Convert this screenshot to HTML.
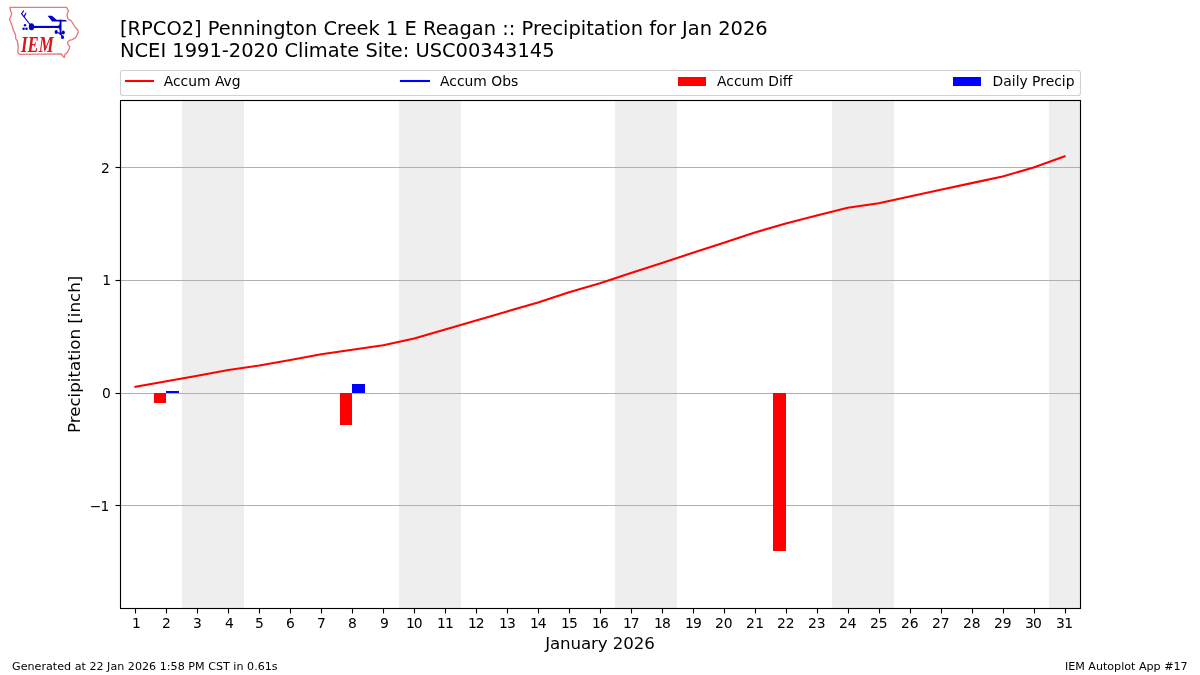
<!DOCTYPE html>
<html lang="en">
<head>
<meta charset="utf-8">
<title>IEM Autoplot App #17 - Precipitation for Jan 2026</title>
<style>
html,body{margin:0;padding:0;background:#fff;}
body{width:1200px;height:675px;overflow:hidden;}
svg{display:block;}
text{font-family:'DejaVu Sans', 'Liberation Sans', sans-serif;fill:#000;}
.tk{font-size:13.889px;}
.lg{font-size:13.889px;}
.ttl{font-size:19.444px;}
.axl{font-size:16.667px;}
.ft{font-size:11.111px;}
.sp{stroke:#000;stroke-width:1.111;fill:none;}
.gr{stroke:#b0b0b0;stroke-width:1.111;fill:none;}
</style>
</head>
<body>
<svg width="1200" height="675" viewBox="0 0 1200 675">
<rect x="0" y="0" width="1200" height="675" fill="#ffffff"/>
<g id="logo">
<path d="M9.9 7.4 L66.7 7.4 L67.6 9.6 L68.6 11.2 L67.4 13 L67.1 15.4 L67.6 18 L68.6 19.6 L70.4 20.3 L71.6 21.2 L72.6 23.2 L73.8 25 L75.2 27.2 L76.6 28.8 L77.9 30.2 L78.1 32 L77.4 34.4 L76.2 36.8 L74.6 38.4 L72.2 39.6 L69.4 40.4 L68.2 41.4 L67.4 43.2 L68.4 45 L69.6 46.4 L69.4 48.4 L68.4 50.4 L67.4 52.4 L65.8 53.6 L64.9 54.4 L64.4 57.4 L63.6 57 L61 53.8 L19.6 54.4 L18.2 53 L17.8 51.4 L18.2 47.6 L17.8 43.6 L17.2 40.6 L15.8 38.8 L15.6 35.6 L15 33.4 L13.6 31 L12.6 27.6 L11.6 24.4 L10.6 22 L9.5 19.4 L10.4 17.2 L11.6 14.6 L11.4 12.6 L10.6 10.8 L10.2 9 Z" fill="none" stroke="#e8787c" stroke-width="1.35" stroke-linejoin="round"/>
<g fill="#0000cd" stroke="none">
<ellipse cx="31.5" cy="26.8" rx="2.7" ry="3.5"/>
<rect x="31.5" y="25.85" width="29" height="2.15"/>
<path d="M57.4 26.8 L59.8 24 L59.8 29.8 Z"/>
<rect x="59.6" y="19.6" width="1.9" height="15.4"/>
<path d="M47.6 15.7 L51.9 15.7 L56.6 19.7 L65.8 20.1 L67 21.6 L52.1 21.6 Z"/>
<circle cx="25" cy="25.2" r="1.2"/>
<circle cx="23.6" cy="28.8" r="1.3"/>
<circle cx="26.5" cy="28.8" r="1.3"/>
<ellipse cx="56.2" cy="32" rx="1.6" ry="1.9"/>
<ellipse cx="63.3" cy="32.5" rx="1.5" ry="2.1"/>
<ellipse cx="62.5" cy="37.2" rx="1.5" ry="1.9"/>
</g>
<g fill="none" stroke="#0000cd" stroke-width="1.15" stroke-linecap="round">
<path d="M31.2 26 L21.6 13.8 L23.5 10.9"/>
<path d="M24.2 16.4 L25.9 13.3"/>
<path d="M56.4 32.2 L60.5 33.6 L63 32.6"/>
<path d="M60.6 34 L62.4 36.8"/>
</g>
<text x="0" y="0" transform="translate(21.0 51.8) scale(0.745 1)" style="font-family:'Liberation Serif','DejaVu Serif',serif;font-style:italic;font-weight:bold;font-size:22.6px;fill:#d8141c;">IEM</text>

</g>
<text class="ttl" x="120" y="34.9">[RPCO2] Pennington Creek 1 E Reagan :: Precipitation for Jan 2026</text>
<text class="ttl" x="120" y="56.8">NCEI 1991-2020 Climate Site: USC00343145</text>
<g id="weekends" fill="#eeeeee">
<rect x="182" y="101" width="62" height="507"/>
<rect x="399" y="101" width="62" height="507"/>
<rect x="615" y="101" width="62" height="507"/>
<rect x="832" y="101" width="62" height="507"/>
<rect x="1049" y="101" width="31" height="507"/>
</g>
<g id="grid" class="gr">
<line x1="120" y1="167.5" x2="1080" y2="167.5"/>
<line x1="120" y1="280.5" x2="1080" y2="280.5"/>
<line x1="120" y1="393.5" x2="1080" y2="393.5"/>
<line x1="120" y1="505.5" x2="1080" y2="505.5"/>
</g>
<g id="bars">
<rect x="154" y="393" width="12" height="10" fill="#ff0000"/>
<rect x="166" y="391" width="13" height="2" fill="#0000ff"/>
<rect x="340" y="393" width="12" height="32" fill="#ff0000"/>
<rect x="352" y="384" width="13" height="9" fill="#0000ff"/>
<rect x="773" y="393" width="13" height="158" fill="#ff0000"/>
</g>
<polyline id="accum-avg" points="135.48,386.85 166.45,381.33 197.42,375.69 228.39,370.05 259.35,365.54 290.32,359.90 321.29,354.27 352.26,349.75 383.23,345.25 414.19,338.48 445.16,329.46 476.13,320.44 507.10,311.42 538.06,302.40 569.03,292.25 600.00,283.23 630.97,273.09 661.94,262.94 692.90,252.79 723.87,242.64 754.84,232.50 785.81,223.48 816.77,215.58 847.74,207.69 878.71,203.18 909.68,196.42 940.65,189.76 971.61,183.11 1002.58,176.46 1033.55,167.44 1064.52,156.28" fill="none" stroke="#ff0000" stroke-width="2.083" stroke-linejoin="round" stroke-linecap="square"/>
<g id="spines" class="sp">
<rect x="120.5" y="100.5" width="960" height="508.0"/>
</g>
<g id="xticks" class="sp">
<line x1="135.5" y1="609" x2="135.5" y2="613.5"/>
<line x1="166.5" y1="609" x2="166.5" y2="613.5"/>
<line x1="197.5" y1="609" x2="197.5" y2="613.5"/>
<line x1="228.5" y1="609" x2="228.5" y2="613.5"/>
<line x1="259.5" y1="609" x2="259.5" y2="613.5"/>
<line x1="290.5" y1="609" x2="290.5" y2="613.5"/>
<line x1="321.5" y1="609" x2="321.5" y2="613.5"/>
<line x1="352.5" y1="609" x2="352.5" y2="613.5"/>
<line x1="383.5" y1="609" x2="383.5" y2="613.5"/>
<line x1="414.5" y1="609" x2="414.5" y2="613.5"/>
<line x1="445.5" y1="609" x2="445.5" y2="613.5"/>
<line x1="476.5" y1="609" x2="476.5" y2="613.5"/>
<line x1="507.5" y1="609" x2="507.5" y2="613.5"/>
<line x1="538.5" y1="609" x2="538.5" y2="613.5"/>
<line x1="569.5" y1="609" x2="569.5" y2="613.5"/>
<line x1="600.5" y1="609" x2="600.5" y2="613.5"/>
<line x1="631.5" y1="609" x2="631.5" y2="613.5"/>
<line x1="662.5" y1="609" x2="662.5" y2="613.5"/>
<line x1="693.5" y1="609" x2="693.5" y2="613.5"/>
<line x1="724.5" y1="609" x2="724.5" y2="613.5"/>
<line x1="755.5" y1="609" x2="755.5" y2="613.5"/>
<line x1="786.5" y1="609" x2="786.5" y2="613.5"/>
<line x1="817.5" y1="609" x2="817.5" y2="613.5"/>
<line x1="848.5" y1="609" x2="848.5" y2="613.5"/>
<line x1="879.5" y1="609" x2="879.5" y2="613.5"/>
<line x1="910.5" y1="609" x2="910.5" y2="613.5"/>
<line x1="941.5" y1="609" x2="941.5" y2="613.5"/>
<line x1="972.5" y1="609" x2="972.5" y2="613.5"/>
<line x1="1003.5" y1="609" x2="1003.5" y2="613.5"/>
<line x1="1034.5" y1="609" x2="1034.5" y2="613.5"/>
<line x1="1065.5" y1="609" x2="1065.5" y2="613.5"/>
</g>
<g id="yticks" class="sp">
<line x1="115.5" y1="167.5" x2="120" y2="167.5"/>
<line x1="115.5" y1="280.5" x2="120" y2="280.5"/>
<line x1="115.5" y1="393.5" x2="120" y2="393.5"/>
<line x1="115.5" y1="505.5" x2="120" y2="505.5"/>
</g>
<g id="xlabels" class="tk">
<text class="tk" x="132" y="628">1</text>
<text class="tk" x="162" y="628">2</text>
<text class="tk" x="193" y="628">3</text>
<text class="tk" x="225" y="628">4</text>
<text class="tk" x="255" y="628">5</text>
<text class="tk" x="286" y="628">6</text>
<text class="tk" x="317" y="628">7</text>
<text class="tk" x="348" y="628">8</text>
<text class="tk" x="380" y="628">9</text>
<text class="tk" x="406 413.75" y="628">10</text>
<text class="tk" x="437 445" y="628">11</text>
<text class="tk" x="468 475.75" y="628">12</text>
<text class="tk" x="499 507" y="628">13</text>
<text class="tk" x="530 537.75" y="628">14</text>
<text class="tk" x="561 569" y="628">15</text>
<text class="tk" x="592 600" y="628">16</text>
<text class="tk" x="623 630.75" y="628">17</text>
<text class="tk" x="654 662" y="628">18</text>
<text class="tk" x="685 693" y="628">19</text>
<text class="tk" x="715 723.75" y="628">20</text>
<text class="tk" x="746 755.25" y="628">21</text>
<text class="tk" x="777 785.75" y="628">22</text>
<text class="tk" x="808 816.75" y="628">23</text>
<text class="tk" x="839 847.75" y="628">24</text>
<text class="tk" x="870 878.75" y="628">25</text>
<text class="tk" x="901 909.75" y="628">26</text>
<text class="tk" x="932 940.75" y="628">27</text>
<text class="tk" x="963 971.75" y="628">28</text>
<text class="tk" x="994 1002.75" y="628">29</text>
<text class="tk" x="1025 1033" y="628">30</text>
<text class="tk" x="1056 1064.25" y="628">31</text>
</g>
<g id="ylabels" class="tk" text-anchor="end">
<text class="tk" x="109.9" y="173">2</text>
<text class="tk" x="111.05" y="285">1</text>
<text class="tk" x="110.85" y="398">0</text>
<text class="tk" x="109.45" y="511">−<tspan dx="-0.85">1</tspan></text>
</g>
<text class="axl" x="600" y="648.7" text-anchor="middle" style="letter-spacing:-0.1px">January 2026</text>
<text class="axl" transform="translate(79.65 354.4) rotate(-90)" text-anchor="middle">Precipitation [inch]</text>
<g id="legend">
<rect x="120.5" y="70.5" width="960" height="25" rx="2.8" ry="2.8" fill="#ffffff" fill-opacity="0.8" stroke="#cccccc" stroke-opacity="0.9" stroke-width="1.111"/>
<line x1="125" y1="81" x2="154.05" y2="81" stroke="#ff0000" stroke-width="2.083"/>
<text class="lg" x="163.7" y="85.9">Accum Avg</text>
<line x1="399.9" y1="81" x2="430" y2="81" stroke="#0000ff" stroke-width="2.083"/>
<text class="lg" x="440" y="85.9">Accum Obs</text>
<rect x="678" y="77" width="28" height="9" fill="#ff0000"/>
<text class="lg" x="717" y="85.9">Accum Diff</text>
<rect x="953" y="77" width="28" height="9" fill="#0000ff"/>
<text class="lg" x="992.6" y="85.9">Daily Precip</text>
</g>
<text class="ft" x="12" y="669.7" style="letter-spacing:0.017px">Generated at 22 Jan 2026 1:58 PM CST in 0.61s</text>
<text class="ft" x="1187.6" y="669.7" text-anchor="end">IEM Autoplot App #17</text>
</svg>
</body>
</html>
